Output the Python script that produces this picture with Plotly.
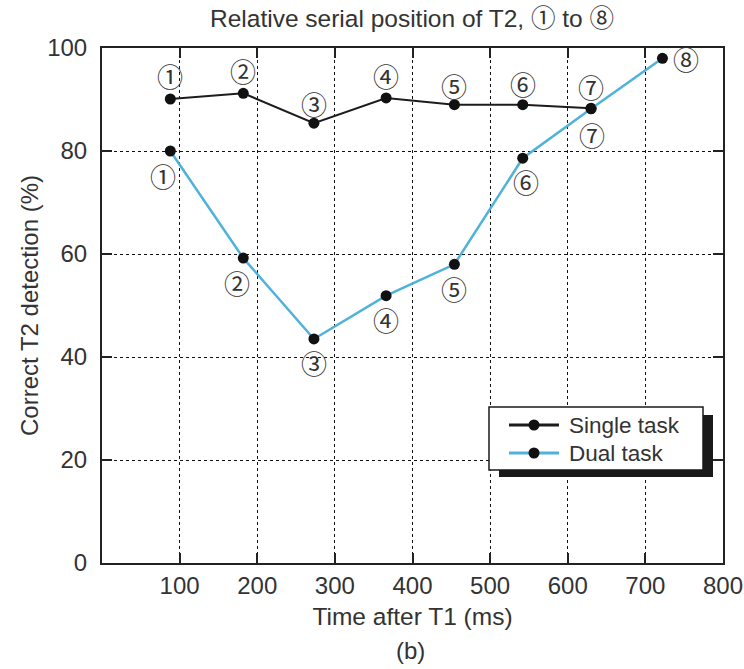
import plotly.graph_objects as go

# Data
time_ms = [88, 182, 273, 366, 454, 542, 630, 722]
single_task = [90.1, 91.2, 85.4, 90.3, 89.0, 89.0, 88.3]
dual_task = [80.0, 59.2, 43.5, 51.9, 58.0, 78.6, 88.2, 98.0]
position_labels = ["①", "②", "③", "④", "⑤", "⑥", "⑦", "⑧"]
series_names = ["Single task", "Dual task"]
x_ticks = [100, 200, 300, 400, 500, 600, 700, 800]
y_ticks = [0, 20, 40, 60, 80, 100]

TXT = "#333333"
LATIN = "Liberation Sans, Arial, Helvetica, sans-serif"
CIRC = "Noto Sans CJK JP, DejaVu Sans, sans-serif"
BLACK_LINE = "#1c1c1c"
BLUE_LINE = "#4fb2da"

# plot area in pixels (used for decorative legend placement)
L, R, T, B = 102, 723, 48, 563
W, H = 744, 669


def px(xp):
    return (xp - L) / (R - L)


def py(yp):
    return (B - yp) / (B - T)


fig = go.Figure()
fig.add_trace(go.Scatter(
    x=time_ms[:len(single_task)], y=single_task, mode="lines+markers", name=series_names[0],
    line=dict(color=BLACK_LINE, width=2), marker=dict(color="#111111", size=11)))
fig.add_trace(go.Scatter(
    x=time_ms, y=dual_task, mode="lines+markers", name=series_names[1],
    line=dict(color=BLUE_LINE, width=2.5), marker=dict(color="#111111", size=11)))

annotations = []
single_shift = [23, 23, 20, 22, 19, 21, 22]
for i, v in enumerate(single_task):
    annotations.append(dict(x=time_ms[i], y=v, xref="x", yref="y", text=position_labels[i],
                            showarrow=False, yshift=single_shift[i],
                            font=dict(family=CIRC, size=26, color=TXT)))
dual_xshift = [-7, -6, 0, 0, 0, 3, 1, 24]
dual_yshift = [-24, -24, -24, -24, -24, -23, -26, 0]
for i, v in enumerate(dual_task):
    annotations.append(dict(x=time_ms[i], y=v, xref="x", yref="y", text=position_labels[i],
                            showarrow=False, xshift=dual_xshift[i], yshift=dual_yshift[i],
                            font=dict(family=CIRC, size=26, color=TXT)))
annotations.append(dict(x=px(410), y=py(650), xref="paper", yref="paper", text="(b)",
                        showarrow=False, yanchor="middle",
                        font=dict(family=LATIN, size=24, color=TXT)))

# custom legend (box with drop shadow)
shapes = [
    dict(type="rect", xref="paper", yref="paper", layer="above",
         x0=px(499), x1=px(713), y0=py(477), y1=py(415),
         fillcolor="#1a1a1a", line=dict(width=0)),
    dict(type="rect", xref="paper", yref="paper", layer="above",
         x0=px(489), x1=px(703), y0=py(470), y1=py(407),
         fillcolor="white", line=dict(color="#1a1a1a", width=1.5)),
]
for name, color, yrow in [(series_names[0], BLACK_LINE, 425), (series_names[1], BLUE_LINE, 453)]:
    shapes.append(dict(type="line", xref="paper", yref="paper", layer="above",
                       x0=px(509), x1=px(559), y0=py(yrow), y1=py(yrow),
                       line=dict(color=color, width=3)))
    shapes.append(dict(type="circle", xref="paper", yref="paper", layer="above",
                       x0=px(528.5), x1=px(539.5), y0=py(yrow + 5.5), y1=py(yrow - 5.5),
                       fillcolor="#111111", line=dict(width=0)))
    annotations.append(dict(x=px(567), y=py(yrow), xref="paper", yref="paper", text=name,
                            showarrow=False, xanchor="left", yanchor="middle",
                            font=dict(family=LATIN, size=22.5, color=TXT)))

axis_common = dict(
    showgrid=True, gridcolor="#111111", griddash="dot", gridwidth=1,
    showline=True, linecolor="#222222", linewidth=2, mirror="ticks",
    ticks="inside", ticklen=10, tickcolor="#222222", tickwidth=2,
    zeroline=False, automargin=False, tickfont=dict(family=LATIN, size=24, color=TXT),
)

fig.update_layout(
    width=W, height=H,
    margin=dict(l=L, r=W - R, t=T, b=H - B, autoexpand=False),
    paper_bgcolor="white", plot_bgcolor="white",
    title=dict(text="Relative serial position of T2, ① to ⑧", x=412 / W, xref="container",
               y=1 - 18 / H, yref="container", xanchor="center", yanchor="middle",
               font=dict(family="Liberation Sans, Noto Sans CJK JP, sans-serif",
                         size=24.5, color=TXT)),
    xaxis=dict(range=[0, 800], tickvals=x_ticks, ticktext=[str(t) for t in x_ticks],
               title=dict(text="Time after T1 (ms)", standoff=10,
                          font=dict(family=LATIN, size=24.5, color=TXT)),
               **axis_common),
    yaxis=dict(range=[0, 100], tickvals=y_ticks, ticktext=[str(t) for t in y_ticks],
               ticklabelstandoff=8,
               title=dict(text="Correct T2 detection (%)", standoff=2,
                          font=dict(family=LATIN, size=24, color=TXT)),
               **axis_common),
    showlegend=False,
    annotations=annotations,
    shapes=shapes,
)

fig.write_html("out.html", config={"displayModeBar": False},
               post_script="document.body.style.margin='0';")
